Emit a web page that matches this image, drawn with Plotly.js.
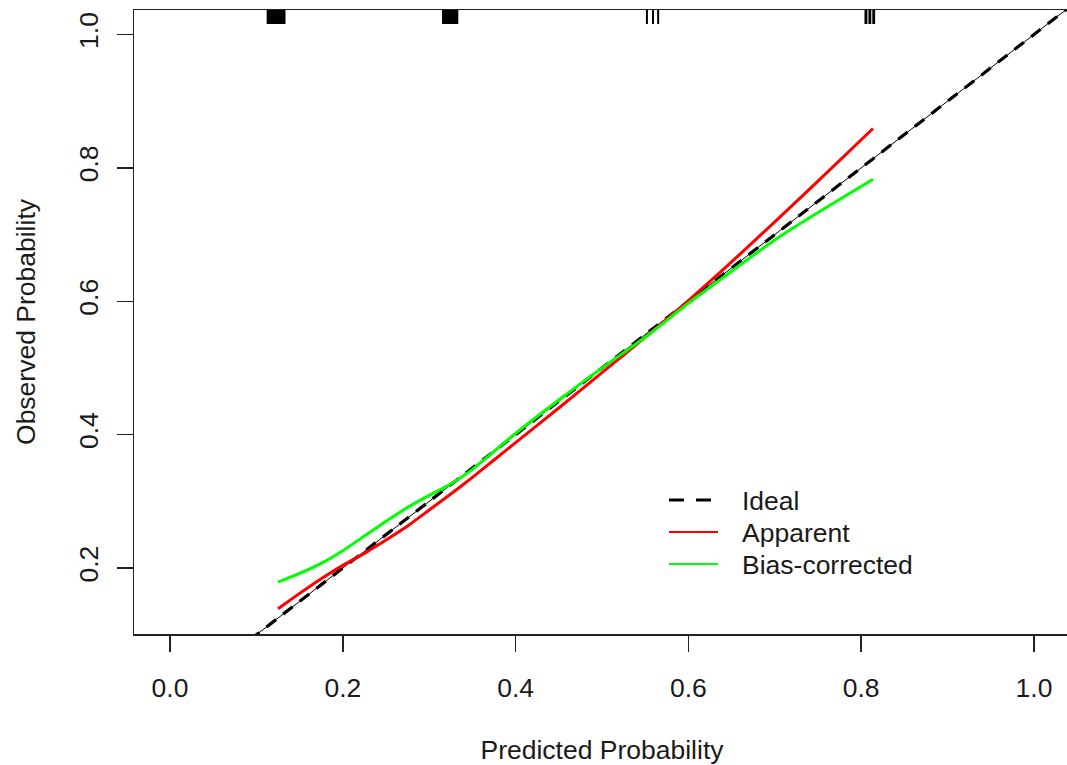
<!DOCTYPE html>
<html>
<head>
<meta charset="utf-8">
<script src="https://cdn.plot.ly/plotly-3.0.1.min.js"></script>
<style>
html,body{margin:0;padding:0;overflow:hidden;background:#fff;}
#chart{width:1072px;height:765px;}
</style>
</head>
<body>
<div id="chart"></div>
<script>
// ---- data ----
const idealX = [-0.1, 1.1];
const idealY = [-0.1, 1.1];

const apparentX = [0.125, 0.15, 0.175, 0.2, 0.225, 0.25, 0.275, 0.3, 0.325, 0.35, 0.375, 0.4, 0.45, 0.5, 0.55, 0.6, 0.65, 0.7, 0.75, 0.8137];
const apparentY = [0.139, 0.162, 0.184, 0.204, 0.222, 0.242, 0.263, 0.287, 0.311, 0.336, 0.362, 0.388, 0.440, 0.493, 0.546, 0.601, 0.659, 0.719, 0.780, 0.859];

const biasX = [0.125, 0.15, 0.175, 0.2, 0.225, 0.25, 0.275, 0.3, 0.325, 0.35, 0.375, 0.4, 0.45, 0.5, 0.55, 0.6, 0.65, 0.7, 0.75, 0.8137];
const biasY = [0.179, 0.192, 0.207, 0.226, 0.248, 0.270, 0.291, 0.309, 0.326, 0.348, 0.375, 0.402, 0.452, 0.500, 0.546, 0.597, 0.645, 0.692, 0.733, 0.783];

// predicted values shown as rug at the top
const rugX = [0.113, 0.1145, 0.116, 0.1175, 0.119, 0.1205, 0.122, 0.1235, 0.125, 0.1265, 0.128, 0.1295, 0.131, 0.1325,
              0.316, 0.3175, 0.319, 0.3205, 0.322, 0.3235, 0.325, 0.3265, 0.328, 0.3295, 0.331, 0.3325,
              0.552, 0.559, 0.565,
              0.805, 0.806, 0.8095, 0.8105, 0.814, 0.815];

const legendNames = ["Ideal", "Apparent", "Bias-corrected"];
const xTicks = [0.0, 0.2, 0.4, 0.6, 0.8, 1.0];
const yTicks = [0.2, 0.4, 0.6, 0.8, 1.0];

// ---- layout geometry ----
const FONT = '"Liberation Sans", Arial, sans-serif';
const FS = 26.5;
const TXT = '#1a1a1a';
const plotL = 134, plotT = 10, plotW = 936, plotH = 624;

const traces = [
  {x: idealX, y: idealY, mode: 'lines', line: {color: '#000', width: 1}, hoverinfo: 'skip', showlegend: false},
  {x: idealX, y: idealY, mode: 'lines', name: legendNames[0], line: {color: '#000', width: 3.2, dash: '12px,9px'}, showlegend: false},
  {x: apparentX, y: apparentY, mode: 'lines', name: legendNames[1], line: {color: '#FF0000', width: 3, shape: 'spline', smoothing: 0.5}, showlegend: false},
  {x: biasX, y: biasY, mode: 'lines', name: legendNames[2], line: {color: '#00FF00', width: 3, shape: 'spline', smoothing: 0.5}, showlegend: false}
];

const shapes = [];
const rugLen = 14 / plotH;
rugX.forEach(v => shapes.push({type: 'line', xref: 'x', yref: 'paper', x0: v, x1: v, y0: 1, y1: 1 - rugLen, line: {color: '#000', width: 2}}));

// manual legend (R style)
const px = p => (p - plotL) / plotW;
const py = p => (plotT + plotH - p) / plotH;
const legRows = [500, 532, 564];
const legStyles = [
  {color: '#000', width: 3.2, dash: '15px,12px'},
  {color: '#FF0000', width: 2},
  {color: '#00FF00', width: 2}
];
const annotations = [];
legRows.forEach((r, i) => {
  shapes.push({type: 'line', xref: 'paper', yref: 'paper', x0: px(669), x1: px(718), y0: py(r), y1: py(r), line: legStyles[i]});
  annotations.push({xref: 'paper', yref: 'paper', x: px(740), y: py(r + 1), xanchor: 'left', yanchor: 'middle', text: legendNames[i], showarrow: false, font: {family: FONT, size: FS, color: TXT}});
});

const layout = {
  width: 1072, height: 765,
  margin: {l: plotL, t: plotT, r: 1072 - plotL - plotW, b: 765 - plotT - plotH},
  paper_bgcolor: '#fff', plot_bgcolor: '#fff',
  font: {family: FONT, size: FS, color: TXT},
  showlegend: false,
  xaxis: {
    range: [-0.0417, 1.0417], tickvals: xTicks, ticktext: xTicks.map(v => v.toFixed(1)),
    ticks: 'outside', ticklen: 16, tickwidth: 1.5, tickcolor: '#222',
    showline: true, mirror: true, linecolor: '#222', linewidth: 1.5,
    showgrid: false, zeroline: false, ticklabelstandoff: 14,
    title: {text: 'Predicted Probability', standoff: 38, font: {family: FONT, size: FS, color: TXT}},
    automargin: false
  },
  yaxis: {
    range: [0.1011, 1.0367], tickvals: yTicks, ticktext: yTicks.map(v => v.toFixed(1)), tickangle: -90,
    ticks: 'outside', ticklen: 16, tickwidth: 1.5, tickcolor: '#222',
    showline: true, mirror: true, linecolor: '#222', linewidth: 1.5,
    showgrid: false, zeroline: false, ticklabelstandoff: 8,
    title: {text: 'Observed Probability', standoff: 30, font: {family: FONT, size: FS, color: TXT}},
    automargin: false
  },
  shapes: shapes,
  annotations: annotations
};

Plotly.newPlot('chart', traces, layout, {displayModeBar: false, staticPlot: true});
</script>
</body>
</html>
